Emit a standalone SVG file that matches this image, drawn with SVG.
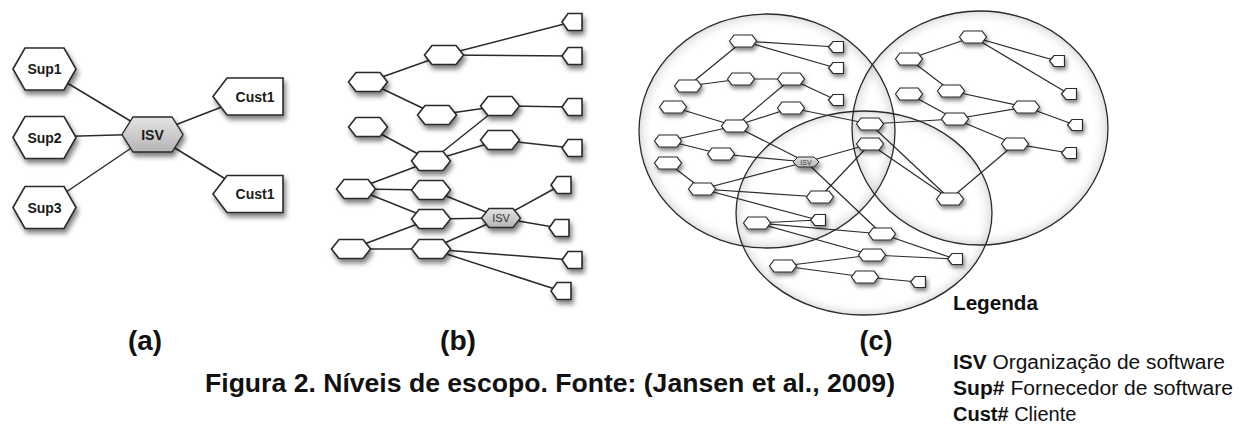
<svg xmlns="http://www.w3.org/2000/svg" width="1258" height="428" viewBox="0 0 1258 428">
<style>
.e{stroke:#2a2a2a;stroke-width:1.5;fill:none}
.ec{stroke:#2a2a2a;stroke-width:1.2;fill:none}
.n{fill:#fff;stroke:#2a2a2a;stroke-width:1.6;filter:url(#sh)}
.nc{fill:#fff;stroke:#2a2a2a;stroke-width:1.2;filter:url(#shs)}
.isv{fill:url(#gray);stroke:#2a2a2a;stroke-width:1.4;filter:url(#sh)}
.lbl{font-family:"Liberation Sans",Arial,sans-serif;font-weight:bold;font-size:14px;fill:#1a1a1a;text-anchor:middle}
.sc{fill:url(#ring);stroke:none}
.scs{fill:none;stroke:#2a2a2a;stroke-width:1.3}
.pl{font-family:"Liberation Sans",Arial,sans-serif;font-weight:bold;font-size:28px;fill:#111;text-anchor:middle}
.cap{font-family:"Liberation Sans",Arial,sans-serif;font-weight:bold;font-size:25px;fill:#111}
.lg{font-family:"Liberation Sans",Arial,sans-serif;font-size:20px;fill:#111}
</style>
<defs>
<filter id="sh" x="-40%" y="-40%" width="190%" height="220%"><feDropShadow dx="2" dy="4" stdDeviation="2.5" flood-color="#000" flood-opacity="0.5"/></filter>
<filter id="shs" x="-40%" y="-40%" width="190%" height="240%"><feDropShadow dx="1.5" dy="3" stdDeviation="2" flood-color="#000" flood-opacity="0.5"/></filter>
<linearGradient id="gray" x1="0" y1="0" x2="0" y2="1"><stop offset="0" stop-color="#e4e4e4"/><stop offset="1" stop-color="#b4b4b4"/></linearGradient>
<radialGradient id="ring"><stop offset="0.88" stop-color="#fff" stop-opacity="0"/><stop offset="1" stop-color="#a0a0a0" stop-opacity="0.35"/></radialGradient>
<path id="hexA" d="M-31.5,0 L-19.5,-21 L19.5,-21 L31.5,0 L19.5,21 L-19.5,21 Z"/>
<path id="hexI" d="M-30.5,0 L-19.5,-17.5 L19.5,-17.5 L30.5,0 L19.5,17.5 L-19.5,17.5 Z"/>
<path id="penA" d="M-35,0 L-21,-18.5 L35,-18.5 L35,18.5 L-21,18.5 Z"/>
<path id="hexB" d="M-19.5,0 L-12,-9.5 L12,-9.5 L19.5,0 L12,9.5 L-12,9.5 Z"/>
<path id="penB" d="M-10,0 L-4,-8.5 L10,-8.5 L10,8.5 L-4,8.5 Z"/>
<path id="hexC" d="M-13.5,0 L-9,-6 L9,-6 L13.5,0 L9,6 L-9,6 Z"/>
<path id="penC" d="M-7.5,0 L-3,-5.5 L7.5,-5.5 L7.5,5.5 L-3,5.5 Z"/>
<path id="isvC" d="M-13,0 L-8,-5 L8,-5 L13,0 L8,5 L-8,5 Z"/>
</defs>
<rect width="1258" height="428" fill="#fff"/>

<!-- scope circles (c) -->
<g id="scopes">
<ellipse class="sc" cx="767" cy="131" rx="128" ry="117"/>
<ellipse class="sc" cx="980" cy="128" rx="128" ry="117"/>
<ellipse class="sc" cx="864" cy="213" rx="128" ry="102"/>
<ellipse class="scs" cx="767" cy="131" rx="128" ry="117"/>
<ellipse class="scs" cx="980" cy="128" rx="128" ry="117"/>
<ellipse class="scs" cx="864" cy="213" rx="128" ry="102"/>
</g>

<g id="connectors">
<!-- (a) -->
<line class="e" x1="44" y1="69" x2="152" y2="134"/>
<line class="e" x1="44" y1="137" x2="152" y2="134"/>
<line class="e" x1="44" y1="207" x2="152" y2="134"/>
<line class="e" x1="152" y1="134" x2="250" y2="96"/>
<line class="e" x1="152" y1="134" x2="250" y2="194"/>
<!-- (b) -->
<line class="e" x1="368" y1="82" x2="444" y2="55"/>
<line class="e" x1="368" y1="82" x2="437" y2="115"/>
<line class="e" x1="444" y1="55" x2="572" y2="22"/>
<line class="e" x1="444" y1="55" x2="572" y2="56"/>
<line class="e" x1="437" y1="115" x2="500" y2="106"/>
<line class="e" x1="500" y1="106" x2="572" y2="107"/>
<line class="e" x1="500" y1="106" x2="431" y2="161"/>
<line class="e" x1="368" y1="127" x2="431" y2="161"/>
<line class="e" x1="500" y1="140" x2="431" y2="161"/>
<line class="e" x1="500" y1="140" x2="572" y2="148"/>
<line class="e" x1="431" y1="161" x2="356" y2="189"/>
<line class="e" x1="356" y1="189" x2="431" y2="190"/>
<line class="e" x1="356" y1="189" x2="431" y2="219"/>
<line class="e" x1="431" y1="190" x2="501" y2="218"/>
<line class="e" x1="431" y1="219" x2="501" y2="218"/>
<line class="e" x1="351" y1="249" x2="431" y2="219"/>
<line class="e" x1="351" y1="249" x2="431" y2="249"/>
<line class="e" x1="431" y1="249" x2="501" y2="218"/>
<line class="e" x1="501" y1="218" x2="561" y2="185"/>
<line class="e" x1="501" y1="218" x2="559" y2="228"/>
<line class="e" x1="431" y1="249" x2="572" y2="260"/>
<line class="e" x1="431" y1="249" x2="561" y2="291"/>
<!-- (c) -->
<line class="ec" x1="743" y1="41" x2="836" y2="47"/>
<line class="ec" x1="743" y1="41" x2="836" y2="68"/>
<line class="ec" x1="743" y1="41" x2="688" y2="86"/>
<line class="ec" x1="688" y1="86" x2="741" y2="79"/>
<line class="ec" x1="741" y1="79" x2="791" y2="79"/>
<line class="ec" x1="791" y1="79" x2="836" y2="100"/>
<line class="ec" x1="791" y1="79" x2="735" y2="126"/>
<line class="ec" x1="673" y1="107" x2="735" y2="126"/>
<line class="ec" x1="791" y1="108" x2="735" y2="126"/>
<line class="ec" x1="791" y1="108" x2="870" y2="124"/>
<line class="ec" x1="735" y1="126" x2="668" y2="141"/>
<line class="ec" x1="735" y1="126" x2="806" y2="162"/>
<line class="ec" x1="668" y1="141" x2="721" y2="154"/>
<line class="ec" x1="721" y1="154" x2="806" y2="162"/>
<line class="ec" x1="806" y1="162" x2="870" y2="144"/>
<line class="ec" x1="668" y1="163" x2="702" y2="189"/>
<line class="ec" x1="702" y1="189" x2="806" y2="162"/>
<line class="ec" x1="702" y1="189" x2="820" y2="197"/>
<line class="ec" x1="702" y1="189" x2="818" y2="220"/>
<line class="ec" x1="820" y1="197" x2="870" y2="144"/>
<line class="ec" x1="806" y1="162" x2="882" y2="234"/>
<line class="ec" x1="757" y1="223" x2="818" y2="220"/>
<line class="ec" x1="757" y1="223" x2="882" y2="234"/>
<line class="ec" x1="757" y1="223" x2="872" y2="255"/>
<line class="ec" x1="783" y1="266" x2="872" y2="255"/>
<line class="ec" x1="783" y1="266" x2="865" y2="277"/>
<line class="ec" x1="865" y1="277" x2="918" y2="282"/>
<line class="ec" x1="872" y1="255" x2="955" y2="259"/>
<line class="ec" x1="882" y1="234" x2="955" y2="259"/>
<line class="ec" x1="870" y1="124" x2="955" y2="119"/>
<line class="ec" x1="870" y1="124" x2="950" y2="199"/>
<line class="ec" x1="870" y1="144" x2="950" y2="199"/>
<line class="ec" x1="950" y1="199" x2="1015" y2="144"/>
<line class="ec" x1="973" y1="37" x2="909" y2="59"/>
<line class="ec" x1="973" y1="37" x2="1057" y2="61"/>
<line class="ec" x1="973" y1="37" x2="1069" y2="94"/>
<line class="ec" x1="909" y1="59" x2="951" y2="91"/>
<line class="ec" x1="909" y1="94" x2="955" y2="119"/>
<line class="ec" x1="951" y1="91" x2="1026" y2="107"/>
<line class="ec" x1="955" y1="119" x2="1026" y2="107"/>
<line class="ec" x1="1026" y1="107" x2="1075" y2="125"/>
<line class="ec" x1="955" y1="119" x2="1015" y2="144"/>
<line class="ec" x1="1015" y1="144" x2="1069" y2="153"/>
</g>

<!-- (a) nodes -->
<g id="a-sup1"><use href="#hexA" class="n" x="44.5" y="69"/><text class="lbl" x="44.5" y="74">Sup1</text></g>
<g id="a-sup2"><use href="#hexA" class="n" x="44.5" y="137.5"/><text class="lbl" x="44.5" y="142.5">Sup2</text></g>
<g id="a-sup3"><use href="#hexA" class="n" x="44.5" y="207.5"/><text class="lbl" x="44.5" y="212.5">Sup3</text></g>
<g id="a-isv"><use href="#hexI" class="isv" x="152.5" y="134.5"/><text class="lbl" x="152.5" y="139.5">ISV</text></g>
<g id="a-cust1a"><use href="#penA" class="n" x="248" y="96.5"/><text class="lbl" x="255" y="101.5">Cust1</text></g>
<g id="a-cust1b"><use href="#penA" class="n" x="248" y="194"/><text class="lbl" x="255" y="199">Cust1</text></g>

<!-- (b) nodes -->
<g id="b-n1"><use href="#hexB" class="n" x="368" y="82"/></g>
<g id="b-n2"><use href="#hexB" class="n" x="444" y="55"/></g>
<g id="b-n3"><use href="#hexB" class="n" x="437" y="115"/></g>
<g id="b-n4"><use href="#hexB" class="n" x="500" y="106"/></g>
<g id="b-n5"><use href="#hexB" class="n" x="368" y="127"/></g>
<g id="b-n6"><use href="#hexB" class="n" x="500" y="140"/></g>
<g id="b-n7"><use href="#hexB" class="n" x="431" y="161"/></g>
<g id="b-n8"><use href="#hexB" class="n" x="356" y="189"/></g>
<g id="b-n9"><use href="#hexB" class="n" x="431" y="190"/></g>
<g id="b-n10"><use href="#hexB" class="n" x="431" y="219"/></g>
<g id="b-n11"><use href="#hexB" class="n" x="351" y="249"/></g>
<g id="b-n12"><use href="#hexB" class="n" x="431" y="249"/></g>
<g id="b-isv"><use href="#hexB" class="isv" x="501" y="218"/><text x="501" y="222" style="font-family:'Liberation Sans',Arial,sans-serif;font-size:11px;fill:#333;text-anchor:middle">ISV</text></g>
<g id="b-c1"><use href="#penB" class="n" x="572" y="22"/></g>
<g id="b-c2"><use href="#penB" class="n" x="572" y="56"/></g>
<g id="b-c3"><use href="#penB" class="n" x="572" y="107"/></g>
<g id="b-c4"><use href="#penB" class="n" x="572" y="148"/></g>
<g id="b-c5"><use href="#penB" class="n" x="561" y="185"/></g>
<g id="b-c6"><use href="#penB" class="n" x="559" y="228"/></g>
<g id="b-c7"><use href="#penB" class="n" x="572" y="260"/></g>
<g id="b-c8"><use href="#penB" class="n" x="561" y="291"/></g>

<!-- (c) nodes -->
<g id="c-a"><use href="#hexC" class="nc" x="743" y="41"/></g>
<g id="c-p1"><use href="#penC" class="nc" x="836" y="47"/></g>
<g id="c-p2"><use href="#penC" class="nc" x="836" y="68"/></g>
<g id="c-b"><use href="#hexC" class="nc" x="688" y="86"/></g>
<g id="c-c"><use href="#hexC" class="nc" x="741" y="79"/></g>
<g id="c-d"><use href="#hexC" class="nc" x="791" y="79"/></g>
<g id="c-p3"><use href="#penC" class="nc" x="836" y="100"/></g>
<g id="c-e"><use href="#hexC" class="nc" x="673" y="107"/></g>
<g id="c-f"><use href="#hexC" class="nc" x="791" y="108"/></g>
<g id="c-g"><use href="#hexC" class="nc" x="735" y="126"/></g>
<g id="c-h"><use href="#hexC" class="nc" x="668" y="141"/></g>
<g id="c-i"><use href="#hexC" class="nc" x="721" y="154"/></g>
<g id="c-j"><use href="#hexC" class="nc" x="668" y="163"/></g>
<g id="c-k"><use href="#hexC" class="nc" x="702" y="189"/></g>
<g id="c-l"><use href="#hexC" class="nc" x="820" y="197"/></g>
<g id="c-p4"><use href="#penC" class="nc" x="818" y="220"/></g>
<g id="c-m"><use href="#hexC" class="nc" x="757" y="223"/></g>
<g id="c-n"><use href="#hexC" class="nc" x="783" y="266"/></g>
<g id="c-q1"><use href="#hexC" class="nc" x="870" y="124"/></g>
<g id="c-q2"><use href="#hexC" class="nc" x="870" y="144"/></g>
<g id="c-r"><use href="#hexC" class="nc" x="955" y="119"/></g>
<g id="c-s"><use href="#hexC" class="nc" x="950" y="199"/></g>
<g id="c-t"><use href="#hexC" class="nc" x="882" y="234"/></g>
<g id="c-u"><use href="#hexC" class="nc" x="872" y="255"/></g>
<g id="c-p5"><use href="#penC" class="nc" x="955" y="259"/></g>
<g id="c-v"><use href="#hexC" class="nc" x="865" y="277"/></g>
<g id="c-p6"><use href="#penC" class="nc" x="918" y="282"/></g>
<g id="c-w1"><use href="#hexC" class="nc" x="973" y="37"/></g>
<g id="c-w2"><use href="#hexC" class="nc" x="909" y="59"/></g>
<g id="c-z1"><use href="#penC" class="nc" x="1057" y="61"/></g>
<g id="c-w3"><use href="#hexC" class="nc" x="909" y="94"/></g>
<g id="c-w4"><use href="#hexC" class="nc" x="951" y="91"/></g>
<g id="c-z2"><use href="#penC" class="nc" x="1069" y="94"/></g>
<g id="c-w5"><use href="#hexC" class="nc" x="1026" y="107"/></g>
<g id="c-z3"><use href="#penC" class="nc" x="1075" y="125"/></g>
<g id="c-w7"><use href="#hexC" class="nc" x="1015" y="144"/></g>
<g id="c-z4"><use href="#penC" class="nc" x="1069" y="153"/></g>
<g id="c-isv"><use href="#isvC" class="isv" x="806" y="162" style="stroke-width:1"/><text x="806" y="164.5" style="font-family:'Liberation Sans',Arial,sans-serif;font-size:7px;fill:#333;text-anchor:middle">ISV</text></g>

<!-- labels -->
<g id="labels">
<text class="pl" x="145" y="350" textLength="34" lengthAdjust="spacingAndGlyphs">(a)</text>
<text class="pl" x="458" y="350" textLength="36" lengthAdjust="spacingAndGlyphs">(b)</text>
<text class="pl" x="876" y="350" textLength="33" lengthAdjust="spacingAndGlyphs">(c)</text>
<text class="cap" x="205" y="392" textLength="690" lengthAdjust="spacingAndGlyphs">Figura 2. Níveis de escopo. Fonte: (Jansen et al., 2009)</text>
<text class="lg" x="953" y="310" style="font-weight:bold" textLength="85" lengthAdjust="spacingAndGlyphs">Legenda</text>
<text class="lg" x="953" y="369" textLength="272" lengthAdjust="spacingAndGlyphs"><tspan font-weight="bold">ISV</tspan> Organização de software</text>
<text class="lg" x="953" y="395" textLength="280" lengthAdjust="spacingAndGlyphs"><tspan font-weight="bold">Sup#</tspan>  Fornecedor de software</text>
<text class="lg" x="953" y="421"><tspan font-weight="bold">Cust#</tspan> Cliente</text>
</g>
</svg>
